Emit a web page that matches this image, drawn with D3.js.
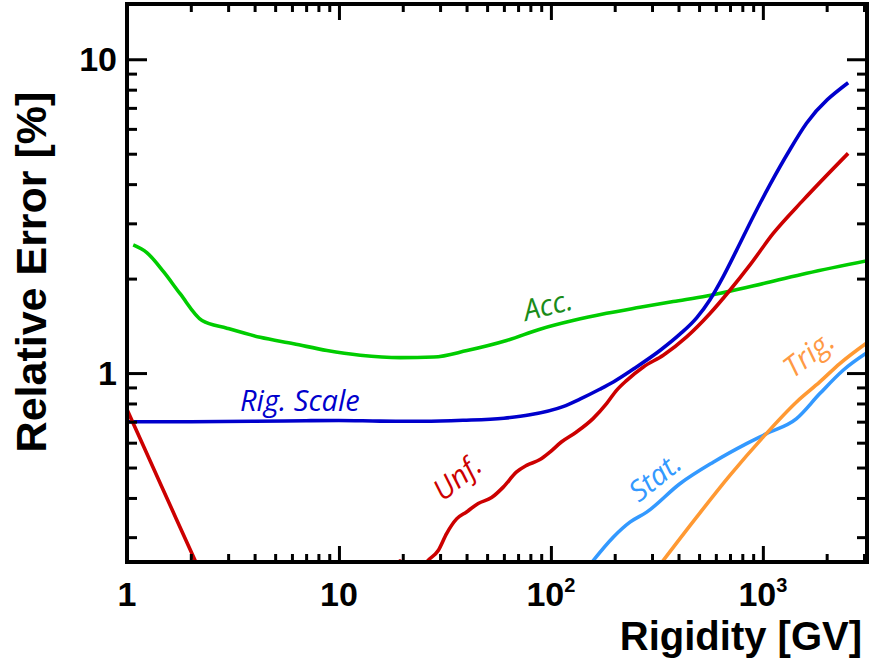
<!DOCTYPE html>
<html>
<head>
<meta charset="utf-8">
<script src="https://cdn.jsdelivr.net/npm/d3@7"></script>
<style>
  html, body { margin: 0; padding: 0; background: #fff; }
  svg { display: block; }
</style>
</head>
<body>
<svg id="chart" width="872" height="660"></svg>
<script>
// ---- data ----
const xTickValues = [1, 10, 100, 1000];
const xTickLabels = [["1", ""], ["10", ""], ["10", "2"], ["10", "3"]];
const yTickValues = [1, 10];
const yTickLabels = ["1", "10"];

const accX = [1.07, 1.24, 1.49, 1.78, 2.26, 2.96, 4.25, 6.11, 8.78, 12.6, 19.5, 28.0, 40.2, 61.8, 88.8, 127, 183, 263, 378, 543, 1040, 1610, 3200];
const accY = [2.56, 2.42, 2.10, 1.79, 1.47, 1.39, 1.30, 1.24, 1.18, 1.14, 1.12, 1.125, 1.18, 1.27, 1.38, 1.47, 1.55, 1.62, 1.69, 1.76, 1.94, 2.08, 2.29];

const rigX = [1, 2, 4, 7, 10, 15.6, 25, 38.5, 60, 79.6, 114, 137, 170, 197, 245, 327, 406, 487, 562, 650, 751, 900, 1079, 1341, 1607, 2526];
const rigY = [0.700, 0.700, 0.702, 0.705, 0.706, 0.703, 0.702, 0.707, 0.718, 0.736, 0.782, 0.826, 0.888, 0.937, 1.03, 1.18, 1.33, 1.50, 1.71, 2.03, 2.46, 3.15, 3.98, 5.15, 6.25, 8.42];

const unfLowX = [1, 1.2, 1.45, 1.7, 2.0, 2.2];
const unfLowY = [0.765, 0.582, 0.4385, 0.3455, 0.271, 0.235];

const unfHighX = [18.8, 19.4, 20.2, 23, 25.9, 29.4, 32.2, 35.9, 40.0, 45.4, 52.5, 59.6, 68.9, 76.8, 88.8, 98.9, 112, 132, 158, 183, 204, 228, 273, 339, 437, 563, 699, 868, 1119, 1550, 2525];
const unfHighY = [0.24, 0.252, 0.24, 0.22, 0.25, 0.272, 0.308, 0.343, 0.361, 0.384, 0.401, 0.433, 0.484, 0.508, 0.530, 0.560, 0.603, 0.649, 0.716, 0.799, 0.881, 0.948, 1.046, 1.140, 1.304, 1.548, 1.836, 2.207, 2.786, 3.557, 5.013];

const statX = [155.6, 196.8, 236, 283, 406, 583, 838, 1040, 1442, 1857, 2392, 3139];
const statY = [0.249, 0.300, 0.335, 0.3605, 0.444, 0.520, 0.596, 0.641, 0.716, 0.860, 1.021, 1.168];

const trigX = [333, 487, 699, 1003, 1442, 1857, 2307, 3139];
const trigY = [0.249, 0.3475, 0.472, 0.625, 0.809, 0.937, 1.072, 1.257];

const seriesNames = ["Acc.", "Rig. Scale", "Unf.", "Stat.", "Trig."];

// ---- layout ----
const L = 127, R = 867, T = 4, B = 562;
const svg = d3.select("#chart");

const x = d3.scaleLog().domain([1, 3100]).range([L, R]);
const y = d3.scaleLog().domain([0.25, 15]).range([B, T]);

const zip = (xs, ys) => xs.map((v, i) => [v, ys[i]]);

svg.append("defs").append("clipPath").attr("id", "plotclip")
  .append("rect").attr("x", L).attr("y", T).attr("width", R - L).attr("height", B - T);

const line = d3.line().x(d => x(d[0])).y(d => y(d[1])).curve(d3.curveMonotoneX);
const linLine = d3.line().x(d => x(d[0])).y(d => y(d[1]));

const plot = svg.append("g").attr("clip-path", "url(#plotclip)");

const series = [
  { d: zip(accX, accY), c: "#00cc00" },
  { d: zip(rigX, rigY), c: "#0000cc" },
  { d: zip(unfLowX, unfLowY), c: "#cc0000", lin: true },
  { d: zip(unfHighX, unfHighY), c: "#cc0000" },
  { d: zip(statX, statY), c: "#3399ff" },
  { d: zip(trigX, trigY), c: "#ff9933" }
];
series.forEach(s => {
  plot.append("path")
    .attr("d", (s.lin ? linLine : line)(s.d))
    .attr("fill", "none")
    .attr("stroke", s.c)
    .attr("stroke-width", 3.6)
    .attr("stroke-linejoin", "round");
});

// ---- axes: ticks inward on all four sides ----
const xMinor = [];
for (let dec = 1; dec <= 1000; dec *= 10)
  for (let k = 2; k <= 9; k++) { const v = k * dec; if (v <= 3100) xMinor.push(v); }
const yMinor = [0.3, 0.4, 0.5, 0.6, 0.7, 0.8, 0.9, 2, 3, 4, 5, 6, 7, 8, 9];

function styleAxis(g) {
  g.select(".domain").remove();
  g.selectAll(".tick line").attr("stroke", "#000").attr("stroke-width", 3);
  g.selectAll(".tick text").remove();
}
svg.append("g").attr("transform", `translate(0,${B})`)
  .call(d3.axisBottom(x).tickValues(xMinor).tickSize(-8).tickFormat("")).call(styleAxis);
svg.append("g").attr("transform", `translate(0,${B})`)
  .call(d3.axisBottom(x).tickValues(xTickValues).tickSize(-16).tickFormat("")).call(styleAxis);
svg.append("g").attr("transform", `translate(0,${T})`)
  .call(d3.axisTop(x).tickValues(xMinor).tickSize(-8).tickFormat("")).call(styleAxis);
svg.append("g").attr("transform", `translate(0,${T})`)
  .call(d3.axisTop(x).tickValues(xTickValues).tickSize(-16).tickFormat("")).call(styleAxis);
svg.append("g").attr("transform", `translate(${L},0)`)
  .call(d3.axisLeft(y).tickValues(yMinor).tickSize(-10).tickFormat("")).call(styleAxis);
svg.append("g").attr("transform", `translate(${L},0)`)
  .call(d3.axisLeft(y).tickValues(yTickValues).tickSize(-20).tickFormat("")).call(styleAxis);
svg.append("g").attr("transform", `translate(${R},0)`)
  .call(d3.axisRight(y).tickValues(yMinor).tickSize(-10).tickFormat("")).call(styleAxis);
svg.append("g").attr("transform", `translate(${R},0)`)
  .call(d3.axisRight(y).tickValues(yTickValues).tickSize(-20).tickFormat("")).call(styleAxis);

svg.append("rect").attr("x", L).attr("y", T).attr("width", R - L).attr("height", B - T)
  .attr("fill", "none").attr("stroke", "#000").attr("stroke-width", 4);

// ---- tick labels ----
const fontMain = "'Liberation Sans', Arial, Helvetica, sans-serif";
xTickValues.forEach((v, i) => {
  const t = svg.append("text")
    .attr("x", x(v)).attr("y", 606)
    .attr("text-anchor", "middle")
    .attr("font-family", fontMain).attr("font-weight", "bold").attr("font-size", 34)
    .attr("fill", "#000");
  t.append("tspan").text(xTickLabels[i][0]);
  if (xTickLabels[i][1]) {
    t.append("tspan").attr("dy", -14).attr("font-size", 20).text(xTickLabels[i][1]);
  }
});
yTickValues.forEach((v, i) => {
  svg.append("text")
    .attr("x", 117).attr("y", y(v))
    .attr("dy", "0.36em")
    .attr("text-anchor", "end")
    .attr("font-family", fontMain).attr("font-weight", "bold").attr("font-size", 34)
    .attr("fill", "#000")
    .text(yTickLabels[i]);
});

// ---- axis titles ----
svg.append("text")
  .attr("x", 862).attr("y", 650)
  .attr("text-anchor", "end")
  .attr("font-family", fontMain).attr("font-weight", "bold").attr("font-size", 40)
  .attr("fill", "#000")
  .text("Rigidity [GV]");
svg.append("text")
  .attr("transform", "translate(46,272) rotate(-90)")
  .attr("text-anchor", "middle")
  .attr("font-family", fontMain).attr("font-weight", "bold").attr("font-size", 43)
  .attr("fill", "#000")
  .text("Relative Error [%]");

// ---- curve labels ----
const fontLab = "'Open Sans', 'Noto Sans', sans-serif";
const labels = [
  { t: seriesNames[0], x: 526, y: 321, a: -14, c: "#1a8c1a" },
  { t: seriesNames[1], x: 240, y: 411, a: 0, c: "#0000cc" },
  { t: seriesNames[2], x: 443, y: 502, a: -39, c: "#cc0000" },
  { t: seriesNames[3], x: 639, y: 503, a: -39, c: "#3399ff" },
  { t: seriesNames[4], x: 793, y: 379, a: -38, c: "#ff9944" }
];
labels.forEach(l => {
  svg.append("text")
    .attr("transform", `translate(${l.x},${l.y}) rotate(${l.a})`)
    .attr("font-family", fontLab).attr("font-style", "italic").attr("font-size", 29)
    .attr("fill", l.c)
    .text(l.t);
});
</script>
</body>
</html>
